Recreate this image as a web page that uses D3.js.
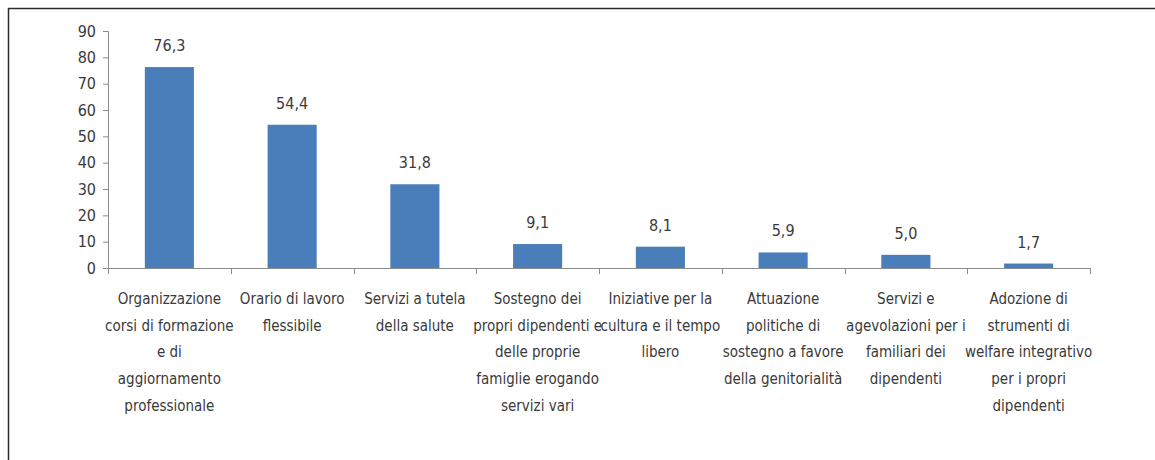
<!DOCTYPE html>
<html>
<head>
<meta charset="utf-8">
<script src="https://cdn.jsdelivr.net/npm/d3@7"></script>
<style>
    body { margin: 0; background: #fff; }
    svg { display: block; }
</style>
</head>
<body>
<div id="chart"></div>
<script>
// chart data
var categories = [
    ["Organizzazione", "corsi di formazione", "e di", "aggiornamento", "professionale"],
    ["Orario di lavoro", "flessibile"],
    ["Servizi a tutela", "della salute"],
    ["Sostegno dei", "propri dipendenti e", "delle proprie", "famiglie erogando", "servizi vari"],
    ["Iniziative per la", "cultura e il tempo", "libero"],
    ["Attuazione", "politiche di", "sostegno a favore", "della genitorialità"],
    ["Servizi e", "agevolazioni per i", "familiari dei", "dipendenti"],
    ["Adozione di", "strumenti di", "welfare integrativo", "per i propri", "dipendenti"]
];
var values = [76.3, 54.4, 31.8, 9.1, 8.1, 5.9, 5.0, 1.7];
var yTicks = [0, 10, 20, 30, 40, 50, 60, 70, 80, 90];

function draw_chart() {
    "use strict";
    var font = "'Liberation Sans Narrow', 'DejaVu Sans Condensed', sans-serif";
    var textColor = "#3a3a3a";
    var axisColor = "#8c8c8c";

    var svg = d3.select("#chart")
        .append("svg")
        .attr("width", 1155)
        .attr("height", 460);

    // outer frame (right and bottom edges fall outside the picture)
    svg.append("rect")
        .attr("x", 8.5)
        .attr("y", 8.5)
        .attr("width", 1170)
        .attr("height", 480)
        .style("fill", "none")
        .style("stroke", "#2b2b2b")
        .style("stroke-width", 1.5);

    var left = 108, right = 1090, top = 31, bottom = 268;

    var x = d3.scaleBand()
        .domain(d3.range(categories.length))
        .range([left, right])
        .paddingInner(0.6)
        .paddingOuter(0.3);

    var y = d3.scaleLinear()
        .domain([0, 90])
        .range([bottom, top]);

    // y axis
    var yAxis = svg.append("g")
        .attr("transform", "translate(" + left + ",0)")
        .call(d3.axisLeft(y).tickValues(yTicks).tickSize(5).tickPadding(7));
    yAxis.select(".domain").style("stroke", axisColor);
    yAxis.selectAll(".tick line").style("stroke", axisColor);
    yAxis.selectAll(".tick text")
        .style("font-family", font)
        .style("font-size", "16px")
        .style("fill", textColor);

    // bars
    svg.selectAll(".bar")
        .data(values)
        .enter()
        .append("rect")
        .attr("class", "bar")
        .attr("x", function (d, i) { return x(i); })
        .attr("y", function (d) { return y(d); })
        .attr("width", x.bandwidth())
        .attr("height", function (d) { return y(0) - y(d); })
        .style("fill", "#4a7ebb");

    // value labels
    svg.selectAll(".val")
        .data(values)
        .enter()
        .append("text")
        .attr("class", "val")
        .attr("x", function (d, i) { return x(i) + x.bandwidth() / 2; })
        .attr("y", function (d) { return y(d) - 16; })
        .attr("text-anchor", "middle")
        .style("font-family", font)
        .style("font-size", "16px")
        .style("fill", textColor)
        .text(function (d) { return d.toFixed(1).replace(".", ","); });

    // x axis line and category boundary ticks
    var step = (right - left) / categories.length;
    svg.append("line")
        .attr("x1", left).attr("x2", right)
        .attr("y1", bottom + 0.5).attr("y2", bottom + 0.5)
        .style("stroke", axisColor);
    svg.selectAll(".xtick")
        .data(d3.range(categories.length + 1))
        .enter()
        .append("line")
        .attr("class", "xtick")
        .attr("x1", function (d) { return Math.round(left + d * step) + 0.5; })
        .attr("x2", function (d) { return Math.round(left + d * step) + 0.5; })
        .attr("y1", bottom)
        .attr("y2", bottom + 6)
        .style("stroke", axisColor);

    // category labels
    var labels = svg.selectAll(".cat")
        .data(categories)
        .enter()
        .append("text")
        .attr("class", "cat")
        .attr("text-anchor", "middle")
        .style("font-family", font)
        .style("font-size", "15px")
        .style("fill", textColor);
    labels.selectAll("tspan")
        .data(function (d, i) {
            return d.map(function (t) { return {t: t, i: i}; });
        })
        .enter()
        .append("tspan")
        .attr("x", function (d) { return x(d.i) + x.bandwidth() / 2; })
        .attr("y", function (d, j) { return 304 + j * 26.7; })
        .text(function (d) { return d.t; });
}

draw_chart();
</script>
</body>
</html>
